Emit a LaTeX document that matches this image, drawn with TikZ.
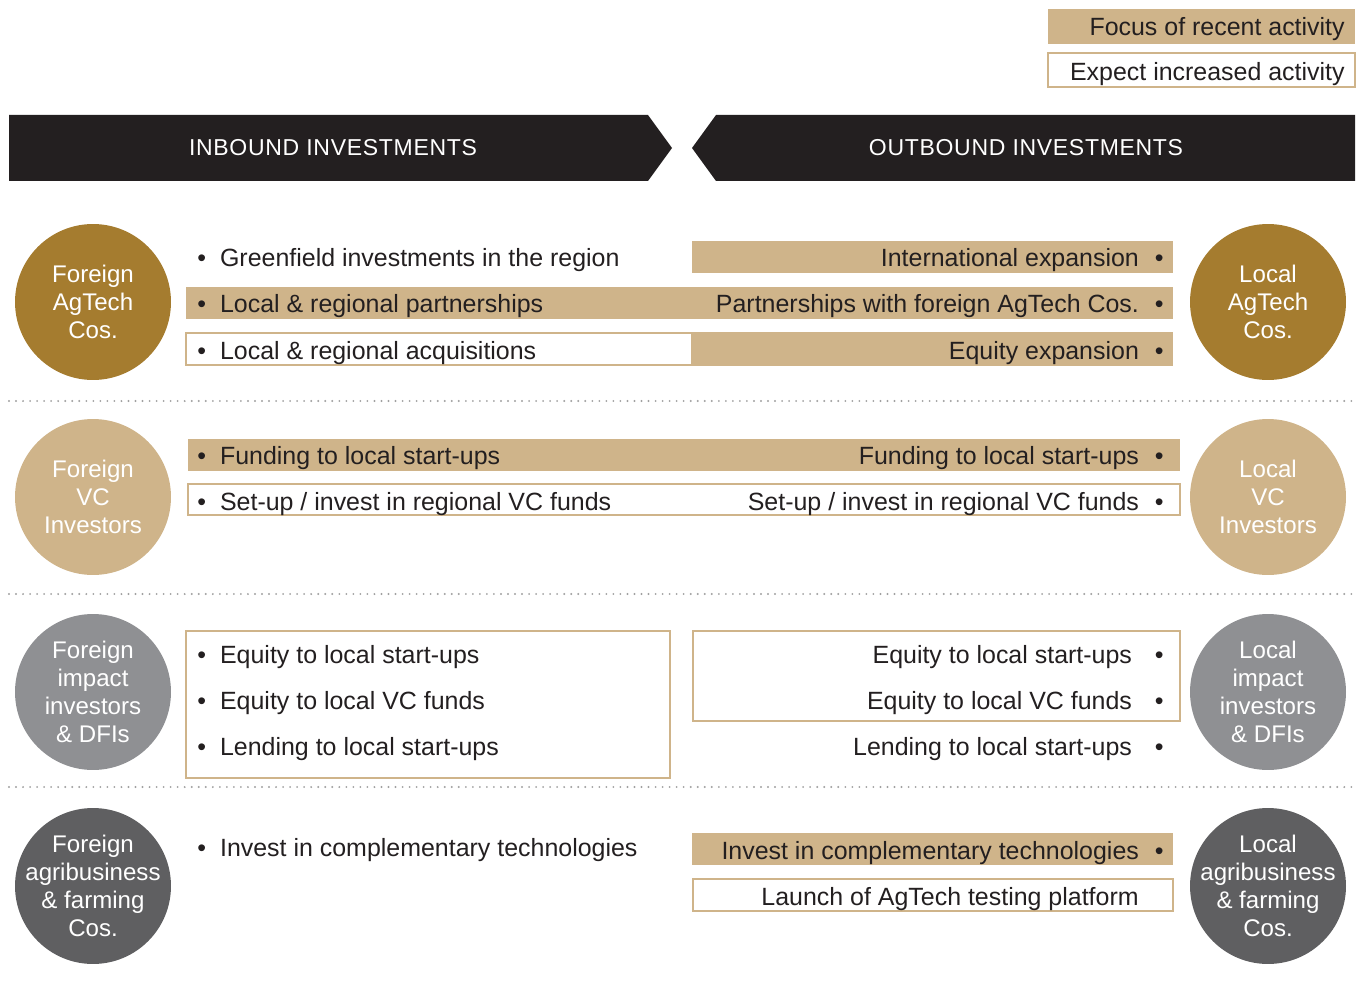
\documentclass[tikz,border=0pt]{standalone}
\usepackage{fontspec}
\setmainfont{Liberation Sans}
\newfontfamily\bannerfont[LetterSpace=3]{Liberation Sans}
\usepackage{xcolor}
\usepackage{tikz}
\usetikzlibrary{positioning}

\definecolor{tanfill}{HTML}{CFB48A}
\definecolor{goldco}{HTML}{A57C2F}
\definecolor{grayco}{HTML}{8F9093}
\definecolor{darkco}{HTML}{5F5F61}
\definecolor{bannerblack}{HTML}{231F20}
\definecolor{inkdark}{HTML}{231F20}
\definecolor{dotgray}{HTML}{A0A0A0}

\tikzset{
  item/.style={inner sep=0pt, text height=0.36cm, text depth=0pt, text=inkdark,
    font=\fontsize{14.2}{17}\selectfont},
  tanbar/.style={fill=tanfill},
  openbar/.style={draw=tanfill, line width=1.1pt, fill=white},
  party/.style={circle, minimum size=3.12cm, inner sep=-0.2cm, align=center, text=white,
    font=\fontsize{13.7}{15.9}\selectfont},
  banner/.style={fill=bannerblack},
  bannertext/.style={inner sep=0pt, text=white, font=\bannerfont\fontsize{13.1}{15}\selectfont},
  sepline/.style={draw=dotgray, line width=1.2pt, line cap=round, dash pattern=on 0pt off 4pt},
}
\newcommand{\lbul}[1]{\textbullet\hspace{0.28cm}#1}
\newcommand{\rbul}[1]{#1\hspace{0.32cm}\textbullet}
\newcommand{\rbulwide}[1]{#1\hspace{0.46cm}\textbullet}

\begin{document}
\begin{tikzpicture}[x=0.02cm, y=-0.02cm]
    \useasboundingbox (0,0) rectangle (1362,983);
    % legend
    \fill[tanbar] (1048,9) rectangle (1355,44);
    \draw[openbar] (1048,53) rectangle (1355,87);
    \node[item, anchor=east] (focus) at (1345,27) {Focus of recent activity};
    \node[item, anchor=east] (expect) at (1345,72) {Expect increased activity};
    % banners
    \fill[banner] (9,115) -- (648,115) -- (672,148) -- (648,181) -- (9,181) -- cycle;
    \fill[banner] (716,115) -- (1355,115) -- (1355,181) -- (716,181) -- (692,148) -- cycle;
    \node[bannertext] (inbound) at (333,148) {INBOUND INVESTMENTS};
    \node[bannertext] (outbound) at (1026,148) {OUTBOUND INVESTMENTS};
    % separators
    \draw[sepline] (9,401) -- (1355,401);
    \draw[sepline] (9,594) -- (1355,594);
    \draw[sepline] (9,787) -- (1355,787);
    % AgTech companies
    \node[party, fill=goldco] (fagtech) at (93,302) {Foreign\\AgTech\\Cos.};
    \node[party, fill=goldco] (lagtech) at (1268,302) {Local\\AgTech\\Cos.};
    \fill[tanbar] (692,241) rectangle (1173,273);
    \fill[tanbar] (186,287) rectangle (1173,319);
    \draw[openbar] (186,333) rectangle (692,365);
    \fill[tanbar] (692,332) rectangle (1173,366);
    \node[item, anchor=west] (greenfield) at (197,258) {\lbul{Greenfield investments in the region}};
    \node[item, anchor=west] (locpart) at (197,304) {\lbul{Local \& regional partnerships}};
    \node[item, anchor=west] (locacq) at (197,350) {\lbul{Local \& regional acquisitions}};
    \node[item, anchor=east] (intexp) at (1164,258) {\rbul{International expansion}};
    \node[item, anchor=east] (forpart) at (1164,304) {\rbul{Partnerships with foreign AgTech Cos.}};
    \node[item, anchor=east] (eqexp) at (1164,350) {\rbul{Equity expansion}};
    % VC investors
    \node[party, fill=tanfill] (fvc) at (93,497) {Foreign\\VC\\Investors};
    \node[party, fill=tanfill] (lvc) at (1268,497) {Local\\VC\\Investors};
    \fill[tanbar] (188,439) rectangle (1180,471);
    \draw[openbar] (188,484) rectangle (1180,515);
    \node[item, anchor=west] (ffund) at (197,455) {\lbul{Funding to local start-ups}};
    \node[item, anchor=west] (fsetup) at (197,501) {\lbul{Set-up / invest in regional VC funds}};
    \node[item, anchor=east] (lfund) at (1164,455) {\rbul{Funding to local start-ups}};
    \node[item, anchor=east] (lsetup) at (1164,501) {\rbul{Set-up / invest in regional VC funds}};
    % impact investors
    \node[party, fill=grayco] (fimpact) at (93,692) {Foreign\\impact\\investors\\\& DFIs};
    \node[party, fill=grayco] (limpact) at (1268,692) {Local\\impact\\investors\\\& DFIs};
    \draw[openbar] (186,631) rectangle (670,778);
    \draw[openbar] (693,631) rectangle (1180,721);
    \node[item, anchor=west] (feqstart) at (197,654) {\lbul{Equity to local start-ups}};
    \node[item, anchor=west] (feqvc) at (197,700) {\lbul{Equity to local VC funds}};
    \node[item, anchor=west] (flend) at (197,746) {\lbul{Lending to local start-ups}};
    \node[item, anchor=east] (leqstart) at (1164,654) {\rbulwide{Equity to local start-ups}};
    \node[item, anchor=east] (leqvc) at (1164,700) {\rbulwide{Equity to local VC funds}};
    \node[item, anchor=east] (llend) at (1164,746) {\rbulwide{Lending to local start-ups}};
    % agribusiness
    \node[party, fill=darkco] (fagri) at (93,886) {Foreign\\agribusiness\\\& farming\\Cos.};
    \node[party, fill=darkco] (lagri) at (1268,886) {Local\\agribusiness\\\& farming\\Cos.};
    \fill[tanbar] (692,833) rectangle (1173,865);
    \draw[openbar] (693,879) rectangle (1173,911);
    \node[item, anchor=west] (fcomp) at (197,847) {\lbul{Invest in complementary technologies}};
    \node[item, anchor=east] (lcomp) at (1164,850) {\rbul{Invest in complementary technologies}};
    \node[item, anchor=east] (launch) at (1139,896) {Launch of AgTech testing platform};
\end{tikzpicture}
\end{document}
